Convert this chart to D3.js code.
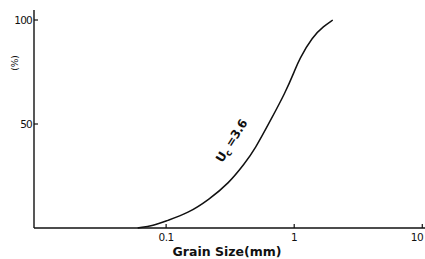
<!DOCTYPE html>
<html>
<head>
<meta charset="utf-8">
<script src="https://cdn.jsdelivr.net/npm/d3@7"></script>
<style>
  body { margin: 0; background: #fff; }
  svg { display: block; }
  text { font-family: "DejaVu Sans", sans-serif; fill: #111; }
</style>
</head>
<body>
<div id="top"></div>
<script>
// grain size distribution
var grainSize = [0.06, 0.08, 0.1, 0.149, 0.214, 0.31, 0.41, 0.49, 0.67, 0.85, 1.0, 1.09, 1.39, 1.7, 2.0];
var percentFiner = [0, 1.2, 3.4, 7.2, 13.5, 21.6, 31, 37.5, 53, 65, 75, 81, 92, 97, 100];
var xTicks = [0.1, 1, 10];
var xTickLabels = ['0.1', '1', '10'];
var yTicks = [50, 100];

var width = 425, height = 259;
var svg = d3.select('#top').append('svg:svg').attr('width', width).attr('height', height);

var x = d3.scaleLog().domain([0.0093, 10.5]).range([34, 425]);
var y = d3.scaleLinear().domain([0, 100]).range([228, 20]);
var axisY = 228;

// axes lines
svg.append('line').attr('x1', 34).attr('x2', 425).attr('y1', axisY).attr('y2', axisY)
  .attr('stroke', '#111').attr('stroke-width', 1.6);
svg.append('line').attr('x1', 34).attr('x2', 34).attr('y1', 10).attr('y2', axisY)
  .attr('stroke', '#111').attr('stroke-width', 1.4);

// x ticks
svg.selectAll('.xtick').data(xTicks).enter().append('line')
  .attr('x1', function(d) { return x(d); }).attr('x2', function(d) { return x(d); })
  .attr('y1', axisY - 4).attr('y2', axisY)
  .attr('stroke', '#111').attr('stroke-width', 1.2);
svg.selectAll('.xlabel').data(xTicks).enter().append('text')
  .attr('x', function(d) { return Math.min(x(d), 417); }).attr('y', 241)
  .attr('text-anchor', 'middle').attr('font-size', 10.5).attr('letter-spacing', -0.5)
  .text(function(d, i) { return xTickLabels[i]; });

// y ticks
svg.selectAll('.ytick').data(yTicks).enter().append('line')
  .attr('x1', 34).attr('x2', 38)
  .attr('y1', function(d) { return y(d); }).attr('y2', function(d) { return y(d); })
  .attr('stroke', '#111').attr('stroke-width', 1.2);
svg.selectAll('.ylabel').data(yTicks).enter().append('text')
  .attr('x', 32).attr('y', function(d) { return y(d) + 4; })
  .attr('text-anchor', 'end').attr('font-size', 10.5).attr('letter-spacing', -0.8)
  .text(function(d) { return d; });

// curve
var line = d3.line()
  .x(function(d) { return x(d[0]); })
  .y(function(d) { return y(d[1]); })
  .curve(d3.curveBasis);
svg.append('path').datum(d3.zip(grainSize, percentFiner))
  .attr('d', line).attr('fill', 'none').attr('stroke', '#111').attr('stroke-width', 1.5);

// curve label
var lab = svg.append('text').attr('transform', 'translate(235,143) rotate(-58)')
  .attr('text-anchor', 'middle').attr('font-size', 12).attr('font-weight', 'bold')
  .attr('letter-spacing', -0.4);
lab.append('tspan').text('U');
lab.append('tspan').attr('font-size', 9).attr('dy', 3).text('c');
lab.append('tspan').attr('dy', -3).text(' =3.6');

// axis titles
svg.append('text').attr('x', 227).attr('y', 256).attr('text-anchor', 'middle')
  .attr('font-size', 12.5).attr('font-weight', 'bold').text('Grain Size(mm)');
svg.append('text').attr('transform', 'translate(18,63) rotate(-90)')
  .attr('text-anchor', 'middle').attr('font-size', 9).text('(%)');
</script>
</body>
</html>
